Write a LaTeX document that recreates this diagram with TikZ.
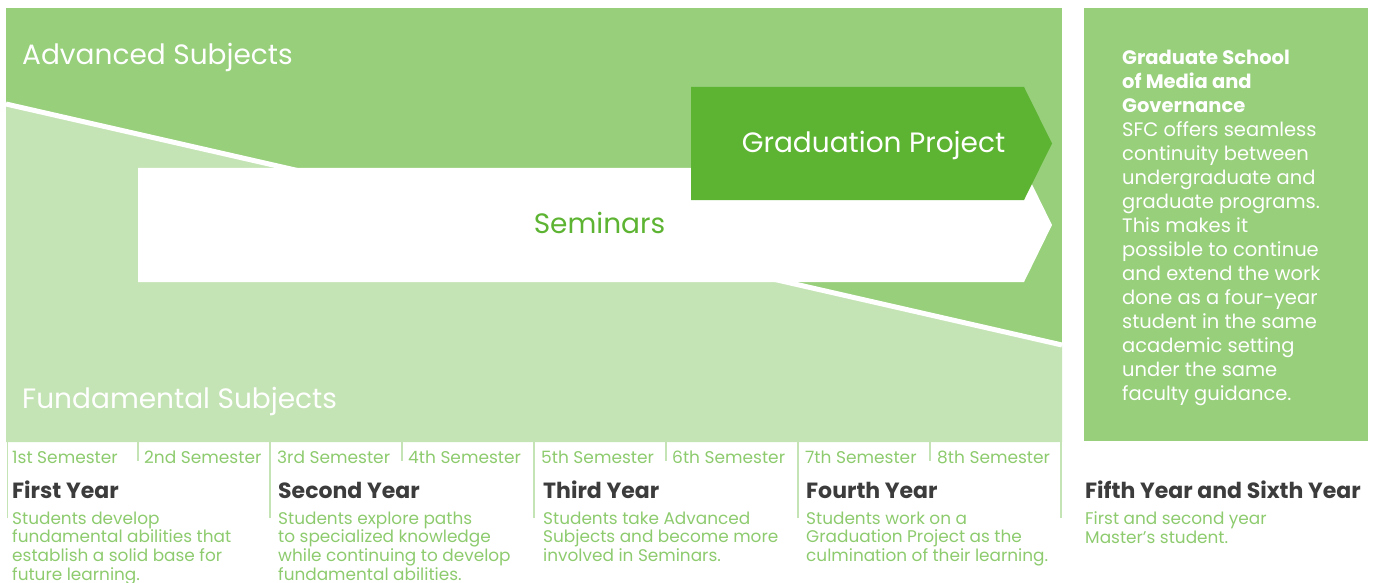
\documentclass[tikz,border=0pt]{standalone}
\usepackage{fontspec}
\setmainfont{Poppins}
\usetikzlibrary{positioning}

\begin{document}
\begin{tikzpicture}[x=1pt, y=-1pt,
    biglabel/.style={inner sep=0pt, font=\fontsize{28}{32}\selectfont},
    semlabel/.style={anchor=base west, inner sep=0pt, text=softgreen, font=\fontsize{17}{20}\selectfont},
    yearhead/.style={anchor=base west, inner sep=0pt, text=headgray, font=\bfseries\fontsize{22}{26}\selectfont},
    yeardesc/.style={anchor=north west, inner sep=0pt, align=left, text=softgreen, font=\fontsize{16.9}{18.6}\selectfont},
    gsinfo/.style={anchor=north west, inner sep=0pt, align=left, text=white, font=\fontsize{19.5}{24}\selectfont}]
    % Colours
    \definecolor{advgreen}{RGB}{151,207,123}
    \definecolor{fundgreen}{RGB}{197,228,181}
    \definecolor{gradgreen}{RGB}{93,180,50}
    \definecolor{softgreen}{RGB}{141,203,110}
    \definecolor{headgray}{RGB}{60,60,60}

    \useasboundingbox (0,0) rectangle (1379,583);

    % Subject areas split by the diagonal
    \fill[advgreen] (6,8) rectangle (1062,442);
    \fill[fundgreen] (6,104) -- (1062,345) -- (1062,442) -- (6,442) -- cycle;
    \draw[white, line width=5pt] (6,104) -- (1062,345);

    % Seminars arrow
    \fill[white] (138,168) -- (1024,168) -- (1052,225) -- (1024,282) -- (138,282) -- cycle;
    % Graduation Project arrow
    \fill[gradgreen] (691,87) -- (1024,87) -- (1052,143.5) -- (1024,200) -- (691,200) -- cycle;

    % Area labels
    \node[biglabel, anchor=base west, text=white] (adv) at (22,65) {Advanced Subjects};
    \node[biglabel, anchor=base west, text=white] (fund) at (22,408) {Fundamental Subjects};
    \node[biglabel, anchor=base, text=white] (grad) at (873.5,153) {Graduation Project};
    \node[biglabel, anchor=base, text=gradgreen] (sem) at (599.5,233) {Seminars};

    % Year and semester rulers
    \foreach \x in {7.5,270,534,798,1061}
        \draw[fundgreen, line width=1.5pt] (\x,442) -- (\x,518);
    \foreach \x in {138,402,666,930}
        \draw[fundgreen, line width=1.5pt] (\x,442) -- (\x,461);

    % Semesters
    \foreach \x/\lab [count=\i] in {12/1st,144/2nd,277/3rd,408/4th,541/5th,672/6th,805/7th,937/8th}
        \node[semlabel] (sem\i) at (\x,463) {\lab{} Semester};

    % Years
    \foreach \x/\lab [count=\i] in {12/First,278/Second,543/Third,806/Fourth}
        \node[yearhead] (year\i) at (\x,498) {\lab{} Year};

    \node[yeardesc] (desc1) at (12,511.5) {Students develop\\fundamental abilities that\\establish a solid base for\\future learning.};
    \node[yeardesc] (desc2) at (278,511.5) {Students explore paths\\to specialized knowledge\\while continuing to develop\\fundamental abilities.};
    \node[yeardesc] (desc3) at (543,511.5) {Students take Advanced\\Subjects and become more\\involved in Seminars.};
    \node[yeardesc] (desc4) at (806,511.5) {Students work on a\\Graduation Project as the\\culmination of their learning.};

    % Graduate school panel
    \fill[advgreen] (1084,8) rectangle (1368,441);
    \node[gsinfo] (gsm) at (1122,49.5) {\textbf{Graduate School}\\\textbf{of Media and}\\\textbf{Governance}\\SFC offers seamless\\continuity between\\undergraduate and\\graduate programs.\\This makes it\\possible to continue\\and extend the work\\done as a four-year\\student in the same\\academic setting\\under the same\\faculty guidance.};

    \node[yearhead] (year5) at (1085,498) {Fifth Year and Sixth Year};
    \node[yeardesc] (desc5) at (1085,511.5) {First and second year\\Master's student.};
\end{tikzpicture}
\end{document}
